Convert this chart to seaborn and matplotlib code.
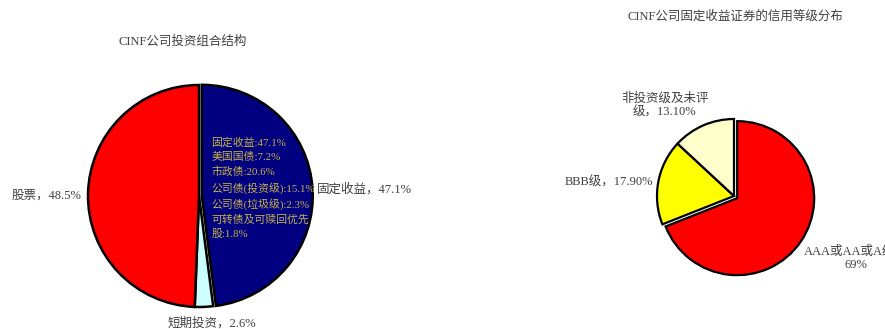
import matplotlib
matplotlib.use("Agg")
import matplotlib.pyplot as plt
import seaborn as sns

sns.set_theme(style="white")
plt.rcParams['font.family'] = ['Liberation Serif', 'Noto Sans CJK SC', 'DejaVu Sans']

# Left chart: portfolio structure
port_labels = ["固定收益", "短期投资", "股票"]
port_values = [47.1, 2.6, 48.5]
port_colors = ["#000080", "#CCFFFF", "#FF0000"]
fixed_detail_names = ["固定收益", "美国国债", "市政债", "公司债(投资级)", "公司债(垃圾级)", "可转债及可赎回优先\n股"]
fixed_detail_values = [47.1, 7.2, 20.6, 15.1, 2.3, 1.8]

# Right chart: credit rating distribution
credit_labels = ["AAA或AA或A级，\n69%", "BBB级，17.90%", "非投资级及未评\n级，13.10%"]
credit_values = [69.0, 17.9, 13.1]
credit_colors = ["#FF0000", "#FFFF00", "#FFFFCC"]

W, H = 885, 329
fig = plt.figure(figsize=(W / 100, H / 100), dpi=100)
fig.patch.set_facecolor("white")

txt_color = "#404040"
fs = 9


def make_ax(cx, cy, r, span):
    half = span * r
    ax = fig.add_axes([(cx - half) / W, (H - cy - half) / H, 2 * half / W, 2 * half / H])
    ax.axis("off")
    return ax


def fix_limits(ax, span):
    ax.set_xlim(-span, span)
    ax.set_ylim(-span, span)
    ax.set_aspect("equal")
    ax.axis("off")


# ---- left pie
SP1 = 1.8
ax1 = make_ax(199, 196, 111, SP1)
wedges, texts = ax1.pie(port_values, colors=port_colors, startangle=90, counterclock=False,
                        explode=[0.025, 0, 0],
                        labels=[f"{l}，{v}%" for l, v in zip(port_labels, port_values)],
                        labeldistance=1.07,
                        wedgeprops=dict(edgecolor="black", linewidth=1.8),
                        textprops=dict(color=txt_color, fontsize=fs))
fix_limits(ax1, SP1)
texts[0].set_position((1.065, 0.06))
texts[0].set_ha("left")
texts[1].set_position((0.12, -1.145))
texts[1].set_ha("center")
texts[2].set_position((-1.06, -0.0))
texts[2].set_ha("right")
detail = "\n".join(f"{n}:{v}%" for n, v in zip(fixed_detail_names, fixed_detail_values))
ax1.text(0.11, 0.53, detail, color="#C8B448", fontsize=7.8, va="top", ha="left",
         linespacing=1.5)
fig.text(183 / W, 1 - 42 / H, "CINF公司投资组合结构", color=txt_color, fontsize=fs,
         ha="center", va="center")

# ---- right pie
SP2 = 2.0
ax2 = make_ax(734, 196, 77, SP2)
w2, t2 = ax2.pie(credit_values, colors=credit_colors, startangle=90, counterclock=False,
                 explode=[0.05, 0, 0], labels=credit_labels, labeldistance=1.15,
                 wedgeprops=dict(edgecolor="black", linewidth=1.6),
                 textprops=dict(color=txt_color, fontsize=fs))
fix_limits(ax2, SP2)
t2[0].set_position((1.58, -0.81))
t2[0].set_ha("center")
t2[1].set_position((-1.05, 0.18))
t2[1].set_ha("right")
t2[2].set_position((-0.9, 1.17))
t2[2].set_ha("center")
for t in t2:
    t.set_multialignment("center")
fig.text(735 / W, 1 - 16 / H, "CINF公司固定收益证券的信用等级分布", color=txt_color, fontsize=fs,
         ha="center", va="center")

fig.savefig("out.png", dpi=100, facecolor="white")
